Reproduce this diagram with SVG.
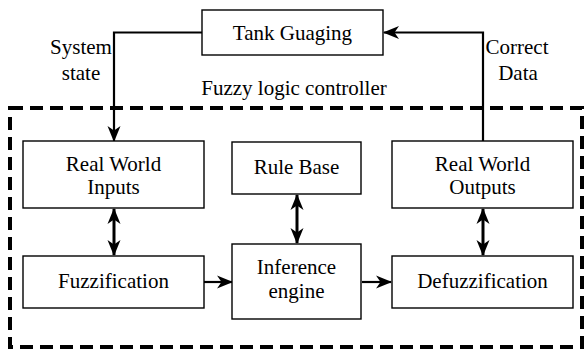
<svg xmlns="http://www.w3.org/2000/svg" width="584" height="350" viewBox="0 0 584 350">
<style>
.box{fill:#fff;stroke:#000;stroke-width:1.4}
.t{font-family:'Liberation Serif','Times New Roman',serif;font-size:21px;fill:#000;text-anchor:middle}
.ln{fill:none;stroke:#000;stroke-width:2.2}
.dbl{fill:none;stroke:#000;stroke-width:3}
</style>
<defs>
<marker id="ah" markerUnits="userSpaceOnUse" markerWidth="16" markerHeight="16" viewBox="0 0 16 16" refX="15" refY="8" orient="auto-start-reverse">
<path d="M0,1.5 L16,8 L0,14.5 L4.5,8 z" fill="#000"/>
</marker>
</defs>
<rect x="10" y="108" width="572" height="239" fill="none" stroke="#000" stroke-width="4" stroke-dasharray="13,7"/>
<text class="t" x="294" y="95">Fuzzy logic controller</text>
<g id="connectors">
<path class="ln" d="M202,32.5 H114 V141" marker-end="url(#ah)"/>
<path class="ln" d="M483,141 V32.5 H384" marker-end="url(#ah)"/>
<path class="dbl" d="M114,209 V255" marker-start="url(#ah)" marker-end="url(#ah)"/>
<path class="dbl" d="M297,195 V243" marker-start="url(#ah)" marker-end="url(#ah)"/>
<path class="dbl" d="M483,209 V255" marker-start="url(#ah)" marker-end="url(#ah)"/>
<path class="ln" d="M204,282 H232" marker-end="url(#ah)"/>
<path class="ln" d="M362,282 H391" marker-end="url(#ah)"/>
</g>
<g id="tank">
<rect class="box" x="202" y="10" width="181" height="45"/>
<text class="t" x="292.5" y="40">Tank Guaging</text>
</g>
<g id="label-system">
<text class="t" x="81" y="54">System</text>
<text class="t" x="81" y="80">state</text>
</g>
<g id="label-correct">
<text class="t" x="517" y="54">Correct</text>
<text class="t" x="518" y="80">Data</text>
</g>
<g id="rwi">
<rect class="box" x="23" y="141" width="181" height="67"/>
<text class="t" x="113.5" y="171">Real World</text>
<text class="t" x="113.5" y="194">Inputs</text>
</g>
<g id="rulebase">
<rect class="box" x="232" y="142" width="129" height="52"/>
<text class="t" x="296.5" y="174">Rule Base</text>
</g>
<g id="rwo">
<rect class="box" x="392" y="141" width="181" height="67"/>
<text class="t" x="482.5" y="171">Real World</text>
<text class="t" x="482.5" y="194">Outputs</text>
</g>
<g id="fuzz">
<rect class="box" x="23" y="256" width="181" height="52"/>
<text class="t" x="113.5" y="288">Fuzzification</text>
</g>
<g id="inference">
<rect class="box" x="232" y="244" width="129" height="75"/>
<text class="t" x="296.5" y="274">Inference</text>
<text class="t" x="296.5" y="298">engine</text>
</g>
<g id="defuzz">
<rect class="box" x="392" y="256" width="181" height="52"/>
<text class="t" x="482.5" y="288">Defuzzification</text>
</g>
</svg>
